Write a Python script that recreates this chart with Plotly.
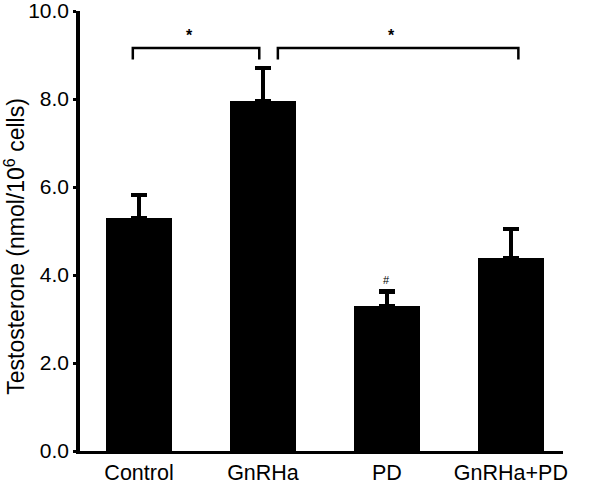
import plotly.graph_objects as go

groups = ["Control", "GnRHa", "PD", "GnRHa+PD"]
means = [5.30, 7.95, 3.30, 4.38]
sem = [0.52, 0.75, 0.32, 0.66]

# significance brackets: (left group, right group, label)
brackets = [(0, 1, "*"), (1, 3, "*")]
hash_group = 2

fig = go.Figure()

fig.add_bar(
    x=list(range(len(groups))), y=means,
    width=0.53,
    marker=dict(color="black", line=dict(width=0)),
    error_y=dict(type="data", symmetric=False, array=sem,
                 arrayminus=[0] * len(sem),
                 color="black", thickness=4.5, width=8),
    showlegend=False,
)

shapes = []
annotations = []
br_top = 9.16
br_bot = 8.9
offsets = [(-0.05, -0.03), (0.12, 0.06)]
for (a, b, lab), (oa, ob) in zip(brackets, offsets):
    xa, xb = a + oa, b + ob
    shapes.append(dict(type="path", xref="x", yref="y",
                       path=f"M {xa} {br_bot} L {xa} {br_top} L {xb} {br_top} L {xb} {br_bot}",
                       line=dict(color="black", width=2.5)))
    annotations.append(dict(x=(xa + xb) / 2 - 0.05, y=br_top, text="<b>" + lab + "</b>",
                            showarrow=False, yanchor="bottom", yshift=2,
                            font=dict(size=16, color="#000000", family="Liberation Sans")))

annotations.append(dict(x=hash_group, y=means[hash_group] + sem[hash_group], text="#",
                        showarrow=False, yanchor="bottom", yshift=4,
                        font=dict(size=11, color="black", family="Liberation Sans")))

annotations.append(dict(x=-0.135, y=0.466, xref="paper", yref="paper",
                        xanchor="center", yanchor="middle",
                        text="Testosterone (nmol/10<sup>6</sup> cells)",
                        textangle=-90, showarrow=False,
                        font=dict(size=23, color="black", family="Liberation Sans")))

fig.update_layout(
    template="none",
    width=600, height=504,
    margin=dict(l=80, r=37, t=11, b=53),
    plot_bgcolor="white", paper_bgcolor="white",
    font=dict(family="Liberation Sans", size=21, color="black"),
    shapes=shapes, annotations=annotations,
    bargap=0,
)

fig.update_xaxes(
    tickvals=list(range(len(groups))), ticktext=groups,
    range=[-0.476, 3.42], automargin=False,
    showline=True, linecolor="black", linewidth=3,
    ticks="", showgrid=False, zeroline=False,
    tickfont=dict(size=21.5),
)
fig.update_yaxes(
    range=[0, 10], tickvals=[0, 2, 4, 6, 8, 10],
    ticktext=["0.0", "2.0", "4.0", "6.0", "8.0", "10.0"], automargin=False,
    ticklabeloverflow="allow",
    showline=True, linecolor="black", linewidth=3.5,
    ticks="outside", ticklen=3, tickwidth=3, tickcolor="black",
    showgrid=False, zeroline=False,
    tickfont=dict(size=21),
)

fig.write_html("out.html", config={"displayModeBar": False},
               post_script="document.body.style.margin='0';")
